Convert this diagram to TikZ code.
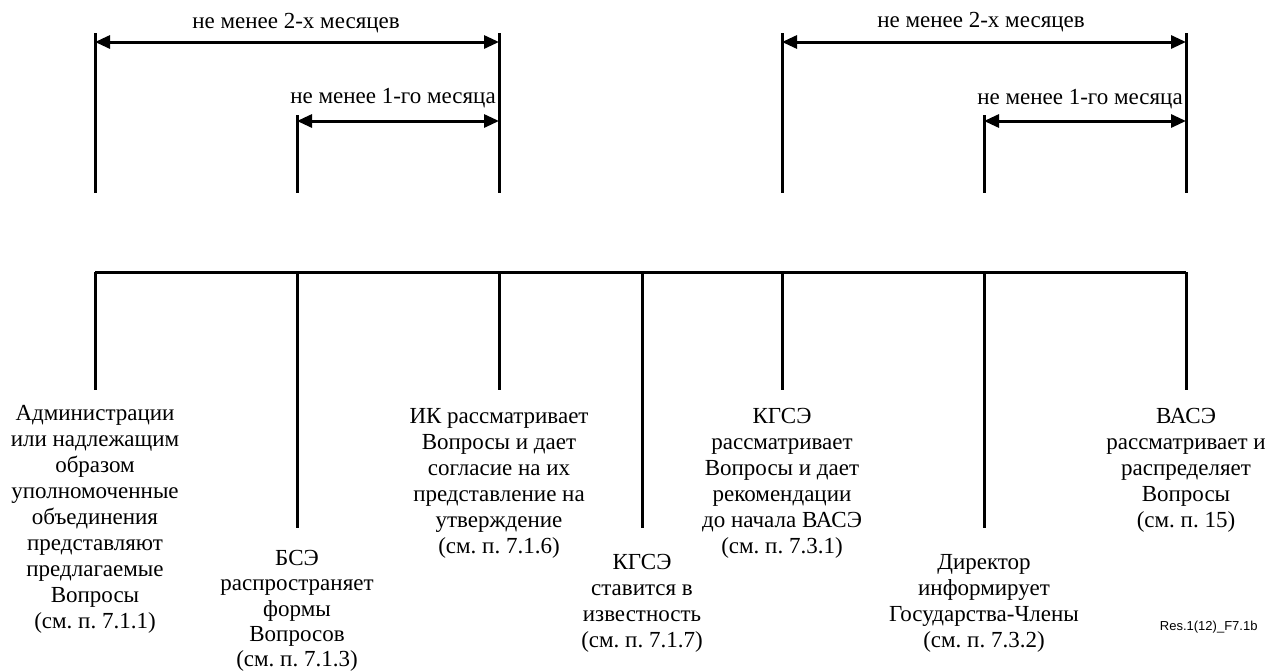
\documentclass[tikz,border=0pt]{standalone}
\usepackage{fontspec}
\setmainfont{Liberation Serif}
\newfontfamily\resfont{Liberation Sans}
\usetikzlibrary{arrows.meta}
\usetikzlibrary{positioning}
\tikzstyle{event}=[align=center,anchor=north,inner sep=0pt,font=\fontsize{23}{26}\selectfont]
\tikzstyle{period}=[inner sep=0pt,font=\fontsize{23}{26}\selectfont]
\tikzstyle{interval}=[<->]

\begin{document}
\begin{tikzpicture}[x=1pt, y=-1pt, line width=3pt, >={Triangle[length=15pt, width=13pt]}]
    \useasboundingbox (0,0) rectangle (1269,670);
    % upper marks, left pair
    \coordinate (m1) at (95,33);
    \coordinate (m1b) at (95,193);
    \coordinate (m2) at (297,115);
    \coordinate (m2b) at (297,193);
    \coordinate (m3) at (499,33);
    \coordinate (m3b) at (499,193);
    \draw (m1) -- (m1b);
    \draw (m2) -- (m2b);
    \draw (m3) -- (m3b);
    \coordinate (l1) at (95,42);
    \coordinate (r1) at (499,42);
    \coordinate (l2) at (297,121);
    \coordinate (r2) at (499,121);
    \draw[interval] (l1) -- (r1);
    \draw[interval] (l2) -- (r2);
    \node[period] at (296,23) (two1) {не менее 2-х месяцев};
    \node[period] at (393,98) (one1) {не менее 1-го месяца};
    % upper marks, right pair
    \coordinate (m5) at (782,33);
    \coordinate (m5b) at (782,193);
    \coordinate (m6) at (984,115);
    \coordinate (m6b) at (984,193);
    \coordinate (m7) at (1186,33);
    \coordinate (m7b) at (1186,193);
    \draw (m5) -- (m5b);
    \draw (m6) -- (m6b);
    \draw (m7) -- (m7b);
    \coordinate (l5) at (782,42);
    \coordinate (r5) at (1186,42);
    \coordinate (l6) at (984,121);
    \coordinate (r6) at (1186,121);
    \draw[interval] (l5) -- (r5);
    \draw[interval] (l6) -- (r6);
    \node[period] at (981,22) (two2) {не менее 2-х месяцев};
    \node[period] at (1080,99) (one2) {не менее 1-го месяца};
    % time line
    \coordinate (b1) at (95,272);
    \coordinate (b2) at (297,272);
    \coordinate (b3) at (499,272);
    \coordinate (b4) at (642,272);
    \coordinate (b5) at (782,272);
    \coordinate (b6) at (984,272);
    \coordinate (b7) at (1186,272);
    \draw (b1) -- (b7);
    \coordinate (e1) at (95,390);
    \coordinate (e2) at (297,528);
    \coordinate (e3) at (499,390);
    \coordinate (e4) at (642,528);
    \coordinate (e5) at (782,390);
    \coordinate (e6) at (984,528);
    \coordinate (e7) at (1186,390);
    \draw (b1) -- (e1);
    \draw (b2) -- (e2);
    \draw (b3) -- (e3);
    \draw (b4) -- (e4);
    \draw (b5) -- (e5);
    \draw (b6) -- (e6);
    \draw (b7) -- (e7);
    % events
    \node[event] at (95,404) (admin) {Администрации\\или надлежащим\\образом\\уполномоченные\\объединения\\представляют\\предлагаемые\\Вопросы\\(см.~п.~7.1.1)};
    \node[event, font=\fontsize{23}{25.2}\selectfont] at (297,549) (tsb) {БСЭ\\распространяет\\формы\\Вопросов\\(см.~п.~7.1.3)};
    \node[event] at (499,407) (sg) {ИК рассматривает\\Вопросы и дает\\согласие на их\\представление на\\утверждение\\(см.~п.~7.1.6)};
    \node[event] at (642,553) (tsag1) {КГСЭ\\ставится в\\известность\\(см.~п.~7.1.7)};
    \node[event] at (782,407) (tsag2) {КГСЭ\\рассматривает\\Вопросы и дает\\рекомендации\\до начала ВАСЭ\\(см.~п.~7.3.1)};
    \node[event] at (984,553) (dir) {Директор\\информирует\\Государства-Члены\\(см.~п.~7.3.2)};
    \node[event] at (1186,407) (wtsa) {ВАСЭ\\рассматривает и\\распределяет\\Вопросы\\(см.~п.~15)};
    \node[anchor=east, inner sep=0pt, font=\resfont\fontsize{13}{15}\selectfont] at (1259,627) (ref) {Res.1(12)\_F7.1b};
\end{tikzpicture}
\end{document}
